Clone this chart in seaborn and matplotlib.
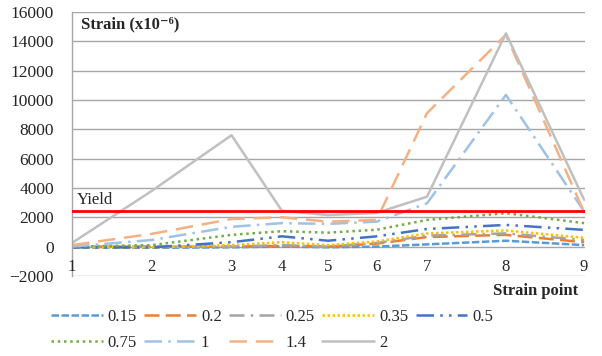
import numpy as np
import pandas as pd
import matplotlib
matplotlib.use('Agg')
import matplotlib.pyplot as plt
import seaborn as sns

# Strain point positions along the member (label -> relative distance)
point_labels = ['1', '2', '3', '4', '5', '6', '7', '8', '9']
point_pos = [0, 1.0, 2.0, 2.63, 3.21, 3.82, 4.45, 5.44, 6.42]

# Strain values (x10^-6) per load level
s015 = [-80, -80, -50, 0, -50, 0, 150, 400, 100]
s020 = [0, 0, 0, 50, 0, 200, 650, 800, 300]
s025 = [0, 0, 0, 100, 0, 250, 750, 900, 450]
s035 = [-50, -50, 100, 300, 100, 350, 900, 1100, 600]
s050 = [-50, -50, 300, 700, 400, 700, 1200, 1480, 1140]
s075 = [0, 100, 800, 1050, 950, 1150, 1820, 2280, 1600]
s100 = [0, 450, 1350, 1600, 1550, 1700, 2950, 10350, 2400]
s140 = [100, 870, 1880, 2000, 1700, 1820, 9100, 14450, 2350]
s200 = [250, 3800, 7600, 2450, 2150, 2300, 3400, 14550, 3200]

series_names = ['0.15', '0.2', '0.25', '0.35', '0.5', '0.75', '1', '1.4', '2']
series_vals = [s015, s020, s025, s035, s050, s075, s100, s140, s200]
yield_strain = 2400

colors = ['#5B9BD5', '#ED7D31', '#A5A5A5', '#FFC000', '#4472C4',
          '#70AD47', '#9DC3E6', '#F4B183', '#C0C0C0']
dashes = [(3, 1), (6, 2.5), (6, 2.5, 1, 2.5), (1, 1), (7, 2.5, 1, 2.5, 1, 2.5),
          (1, 1.5), (7, 2.5, 1, 2.5), (7, 3.5), None]

sns.set_style('white')
plt.rcParams['font.family'] = ['Liberation Serif', 'DejaVu Serif']

fig = plt.figure(figsize=(6.02, 3.56), dpi=100)
ax = fig.add_axes([0.1196, 0.225, 0.852, 0.741])

grid_c = '#A6A6A6'
ax.set_axisbelow(True)
ax.yaxis.grid(True, color=grid_c, lw=1)

for name, vals, c, d in zip(series_names, series_vals, colors, dashes):
    df = pd.DataFrame({'x': point_pos, 'y': vals})
    sns.lineplot(data=df, x='x', y='y', ax=ax, color=c, lw=1.8,
                 label=name, estimator=None, sort=False)
    l = ax.lines[-1]
    if d is not None:
        l.set_dashes(d)

ax.axhline(yield_strain, color='#FF0000', lw=2, zorder=3)
ax.text(0.06, 3200, 'Yield', fontsize=12, va='center', ha='left')

for lab, p in zip(point_labels, point_pos):
    ax.text(p, -1420, lab, fontsize=12, ha='center', va='center')

ax.set_xlim(0, 6.43)
ax.set_ylim(-2000, 16000)
ax.set_yticks(np.arange(-2000, 16001, 2000))
ax.set_xticks([])
ax.set_xlabel('')
ax.set_ylabel('')
ax.tick_params(axis='y', labelsize=12.5, length=4, color=grid_c, pad=9)

for s in ['top', 'right', 'bottom']:
    ax.spines[s].set_visible(False)
ax.spines['left'].set_color(grid_c)
ax.spines['left'].set_linewidth(1)

ax.text(0.018, 0.955, 'Strain (x10\u207b\u2076)', transform=ax.transAxes,
        fontsize=12, fontweight='bold', ha='left', va='center')
fig.text(0.89, 0.183, 'Strain point', fontsize=12, fontweight='bold',
         ha='center', va='center')

# legend fills row by row in the reference
handles, labels = ax.get_legend_handles_labels()
ax.get_legend().remove()
order = [0, 5, 1, 6, 2, 7, 3, 8, 4]
fig.legend([handles[i] for i in order], [labels[i] for i in order],
           ncol=5, loc='center', bbox_to_anchor=(0.452, 0.073),
           frameon=False, fontsize=12, handlelength=3.1, handletextpad=0.3,
           columnspacing=0.45, labelspacing=0.6)

fig.savefig('out.png', dpi=100)
